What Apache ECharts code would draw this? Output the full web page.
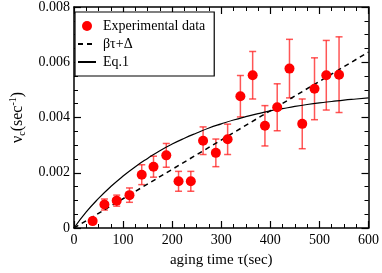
<!DOCTYPE html>
<html><head><meta charset="utf-8">
<script src="https://cdn.jsdelivr.net/npm/echarts@6/dist/echarts.min.js"></script>
<style>html,body{margin:0;padding:0;background:#fff}#c{width:382px;height:273px}</style>
</head><body><div id="c"></div>
<script>
// Experimental data (aging time in sec, rate in 1/sec, error)
const tau = [38, 62, 87, 113, 138, 162, 188, 213, 238, 263, 289, 313, 339, 364, 389, 414, 439, 465, 490, 514, 540];
const rate = [0.00025, 0.00085, 0.00099, 0.00119, 0.00193, 0.00222, 0.00263, 0.00169, 0.00169, 0.00316, 0.00272, 0.00321, 0.00477, 0.00553, 0.00370, 0.00437, 0.00577, 0.00377, 0.00504, 0.00553, 0.00555];
const err = [0.0001, 0.0002, 0.0002, 0.00026, 0.00036, 0.00038, 0.00043, 0.00036, 0.00036, 0.0005, 0.0005, 0.00055, 0.00075, 0.00086, 0.00073, 0.00085, 0.00106, 0.0009, 0.00112, 0.00126, 0.00137];
// Linear fit beta*tau + Delta (endpoints)
const fitTau = [0, 600];
const fitRate = [0, 0.00637];
// Eq.1 curve
const eqTau = [0, 25, 50, 75, 100, 125, 150, 175, 200, 225, 250, 275, 300, 325, 350, 375, 400, 425, 450, 475, 500, 525, 550, 575, 600];
const eqRate = [0, 0.00058, 0.00107, 0.00150, 0.00188, 0.00222, 0.00252, 0.00280, 0.00304, 0.00325, 0.00344, 0.00362, 0.00377, 0.00391, 0.00403, 0.00414, 0.00424, 0.00432, 0.00440, 0.00447, 0.00453, 0.00458, 0.00463, 0.00467, 0.00471];
const xTicks = [0, 100, 200, 300, 400, 500, 600];
const yTicks = ['0', '0.002', '0.004', '0.006', '0.008'];

const font = 'Liberation Serif, Times New Roman, serif';
const chart = echarts.init(document.getElementById('c'));
const baseAxis = {
  axisLine: {show: true, onZero: false, lineStyle: {color: '#000', width: 1.5}},
  axisTick: {show: true, inside: true, length: 7, lineStyle: {color: '#000', width: 1.2}},
  minorTick: {show: true, splitNumber: 4, length: 4, lineStyle: {color: '#000', width: 1}},
  splitLine: {show: false},
};
chart.setOption({
  animation: false,
  grid: {left: 70, top: 6, right: 12.5, bottom: 40},
  legend: {
    left: 75, top: 12, orient: 'vertical', itemGap: 4, itemWidth: 18, itemHeight: 10,
    borderColor: '#000', borderWidth: 1.2, borderRadius: 0, padding: [7, 9, 7, 2],
    backgroundColor: '#fff',
    textStyle: {fontFamily: font, fontSize: 14, color: '#000', padding: [0, 0, 0, 2]},
    data: [
      {name: 'Experimental data', icon: 'circle', itemStyle: {color: '#ff0000', opacity: 1}},
      {name: 'βτ+Δ', itemStyle: {opacity: 0}},
      {name: 'Eq.1', itemStyle: {opacity: 0}}
    ]
  },
  xAxis: [
    Object.assign({}, baseAxis, {
      type: 'value', min: 0, max: 600, interval: 100, position: 'bottom',
      axisLabel: {fontFamily: font, fontSize: 14, color: '#000', margin: 5,
        formatter: v => xTicks.includes(v) ? String(v) : ''},
      name: 'aging time τ(sec)', nameLocation: 'middle', nameGap: 25,
      nameTextStyle: {fontFamily: font, fontSize: 15, color: '#000'}
    }),
    Object.assign({}, baseAxis, {
      type: 'value', min: 0, max: 600, interval: 100, position: 'top',
      axisLabel: {show: false}
    })
  ],
  yAxis: [
    Object.assign({}, baseAxis, {
      type: 'value', min: 0, max: 0.008, interval: 0.002, position: 'left',
      axisLabel: {fontFamily: font, fontSize: 14, color: '#000', margin: 4,
        formatter: v => yTicks[Math.round(v / 0.002)]},
      name: '{n|ν}{s|c}{n|(sec}{p|-1}{n|)}', nameLocation: 'middle', nameRotate: 90, nameGap: 46,
      nameTextStyle: {fontFamily: font, fontSize: 15, color: '#000',
        rich: {
          n: {fontFamily: font, fontSize: 16, color: '#000'},
          s: {fontFamily: font, fontSize: 10, color: '#000', padding: [8, 0, 0, 0]},
          p: {fontFamily: font, fontSize: 10, color: '#000', padding: [0, 0, 10, 0]}
        }}
    }),
    Object.assign({}, baseAxis, {
      type: 'value', min: 0, max: 0.008, interval: 0.002, position: 'right',
      axisLabel: {show: false}
    })
  ],
  series: [
    {
      name: 'errbars', type: 'custom', z: 2,
      data: tau.map((t, i) => [t, rate[i] - err[i], rate[i] + err[i]]),
      renderItem: (params, api) => {
        const lo = api.coord([api.value(0), api.value(1)]);
        const hi = api.coord([api.value(0), api.value(2)]);
        const w = 3.5;
        const st = {stroke: 'rgba(255,30,30,0.75)', lineWidth: 1.5};
        return {type: 'group', children: [
          {type: 'line', shape: {x1: lo[0], y1: lo[1], x2: hi[0], y2: hi[1]}, style: st},
          {type: 'line', shape: {x1: lo[0] - w, y1: lo[1], x2: lo[0] + w, y2: lo[1]}, style: st},
          {type: 'line', shape: {x1: hi[0] - w, y1: hi[1], x2: hi[0] + w, y2: hi[1]}, style: st}
        ]};
      }
    },
    {
      name: 'βτ+Δ', type: 'line', z: 3, symbol: 'none', showSymbol: false,
      data: fitTau.map((t, i) => [t, fitRate[i]]),
      lineStyle: {color: '#000', width: 1.5, type: [5, 4]}, itemStyle: {color: '#000'}
    },
    {
      name: 'Eq.1', type: 'line', z: 3, symbol: 'none', showSymbol: false, smooth: true,
      data: eqTau.map((t, i) => [t, eqRate[i]]),
      lineStyle: {color: '#000', width: 1.2}, itemStyle: {color: '#000'}
    },
    {
      name: 'Experimental data', type: 'scatter', z: 4, symbol: 'circle', symbolSize: 10,
      data: tau.map((t, i) => [t, rate[i]]),
      itemStyle: {color: '#ff0000', opacity: 1}
    }
  ]
});
</script></body></html>
